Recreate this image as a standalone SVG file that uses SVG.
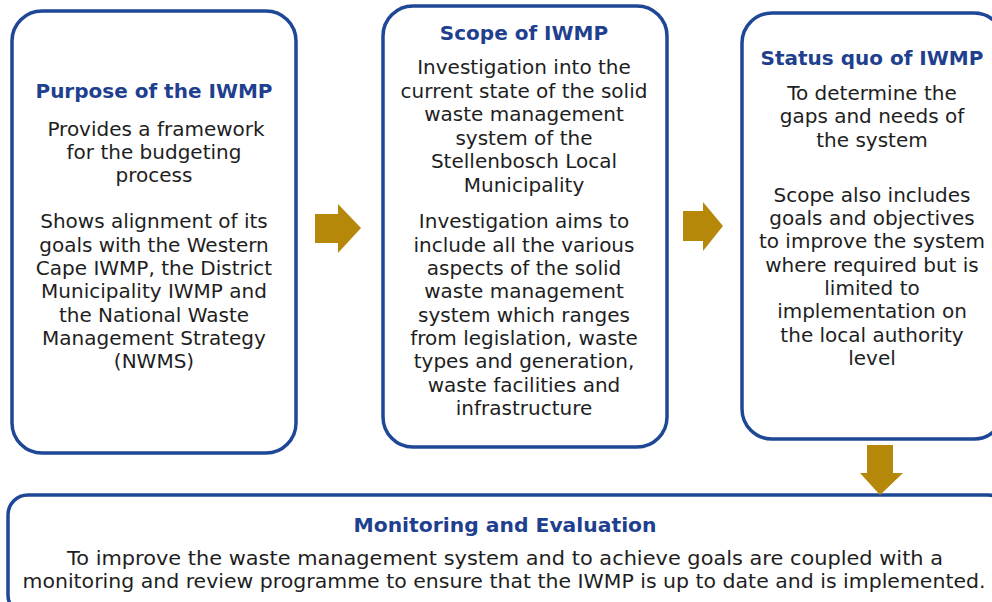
<svg xmlns="http://www.w3.org/2000/svg" width="992" height="602" viewBox="0 0 992 602">
<defs>
<style>
.box{fill:#ffffff;stroke:#1e4796;stroke-width:3.5}
.title{font-family:"DejaVu Sans",sans-serif;font-weight:bold;font-size:20px;fill:#1f3f8f;text-anchor:middle}
.body{font-family:"DejaVu Sans",sans-serif;font-size:20px;fill:#1e1e1e;text-anchor:middle}
.arrow{fill:#b5880a}
</style>
</defs>
<rect width="992" height="602" fill="#ffffff"/>
<g id="purpose">
<rect class="box" x="12" y="11" width="284" height="442" rx="30" ry="30"/>
<text class="title" x="154" y="98">Purpose of the IWMP</text>
<text class="body" x="156" y="136">Provides a framework</text>
<text class="body" x="154" y="159">for the budgeting</text>
<text class="body" x="154" y="182">process</text>
<text class="body" x="154" y="228">Shows alignment of its</text>
<text class="body" x="154" y="252">goals with the Western</text>
<text class="body" x="154" y="275">Cape IWMP, the District</text>
<text class="body" x="154" y="298">Municipality IWMP and</text>
<text class="body" x="154" y="322">the National Waste</text>
<text class="body" x="154" y="345">Management Strategy</text>
<text class="body" x="154" y="368">(NWMS)</text>
</g>
<g id="scope">
<rect class="box" x="383" y="6" width="284" height="441" rx="30" ry="30"/>
<text class="title" x="524" y="40">Scope of IWMP</text>
<text class="body" x="524" y="74">Investigation into the</text>
<text class="body" x="524" y="98">current state of the solid</text>
<text class="body" x="524" y="121">waste management</text>
<text class="body" x="524" y="145">system of the</text>
<text class="body" x="524" y="168">Stellenbosch Local</text>
<text class="body" x="524" y="192">Municipality</text>
<text class="body" x="524" y="228">Investigation aims to</text>
<text class="body" x="524" y="252">include all the various</text>
<text class="body" x="524" y="275">aspects of the solid</text>
<text class="body" x="524" y="298">waste management</text>
<text class="body" x="524" y="322">system which ranges</text>
<text class="body" x="524" y="345">from legislation, waste</text>
<text class="body" x="524" y="368">types and generation,</text>
<text class="body" x="524" y="392">waste facilities and</text>
<text class="body" x="524" y="415">infrastructure</text>
</g>
<g id="statusquo">
<rect class="box" x="742" y="13" width="262" height="426" rx="30" ry="30"/>
<text class="title" x="872" y="65">Status quo of IWMP</text>
<text class="body" x="872" y="100">To determine the</text>
<text class="body" x="872" y="123">gaps and needs of</text>
<text class="body" x="872" y="147">the system</text>
<text class="body" x="872" y="202">Scope also includes</text>
<text class="body" x="872" y="225">goals and objectives</text>
<text class="body" x="872" y="248">to improve the system</text>
<text class="body" x="872" y="272">where required but is</text>
<text class="body" x="872" y="295">limited to</text>
<text class="body" x="872" y="318">implementation on</text>
<text class="body" x="872" y="342">the local authority</text>
<text class="body" x="872" y="365">level</text>
</g>
<g id="monitoring">
<rect class="box" x="8" y="495" width="1000" height="120" rx="20" ry="20"/>
<text class="title" x="505" y="532" textLength="303" lengthAdjust="spacingAndGlyphs">Monitoring and Evaluation</text>
<text class="body" x="505" y="565" textLength="876" lengthAdjust="spacingAndGlyphs">To improve the waste management system and to achieve goals are coupled with a</text>
<text class="body" x="504" y="588" textLength="963" lengthAdjust="spacingAndGlyphs">monitoring and review programme to ensure that the IWMP is up to date and is implemented.</text>
</g>
<g id="connectors">
<polygon class="arrow" points="315,214 338,214 338,204 361,228 338,253 338,243 315,243"/>
<polygon class="arrow" points="683,211 703,211 703,202 723,226 703,251 703,241 683,241"/>
<polygon class="arrow" points="867,445 893,445 893,473 903,473 880,495 860,473 867,473"/>
</g>
</svg>
